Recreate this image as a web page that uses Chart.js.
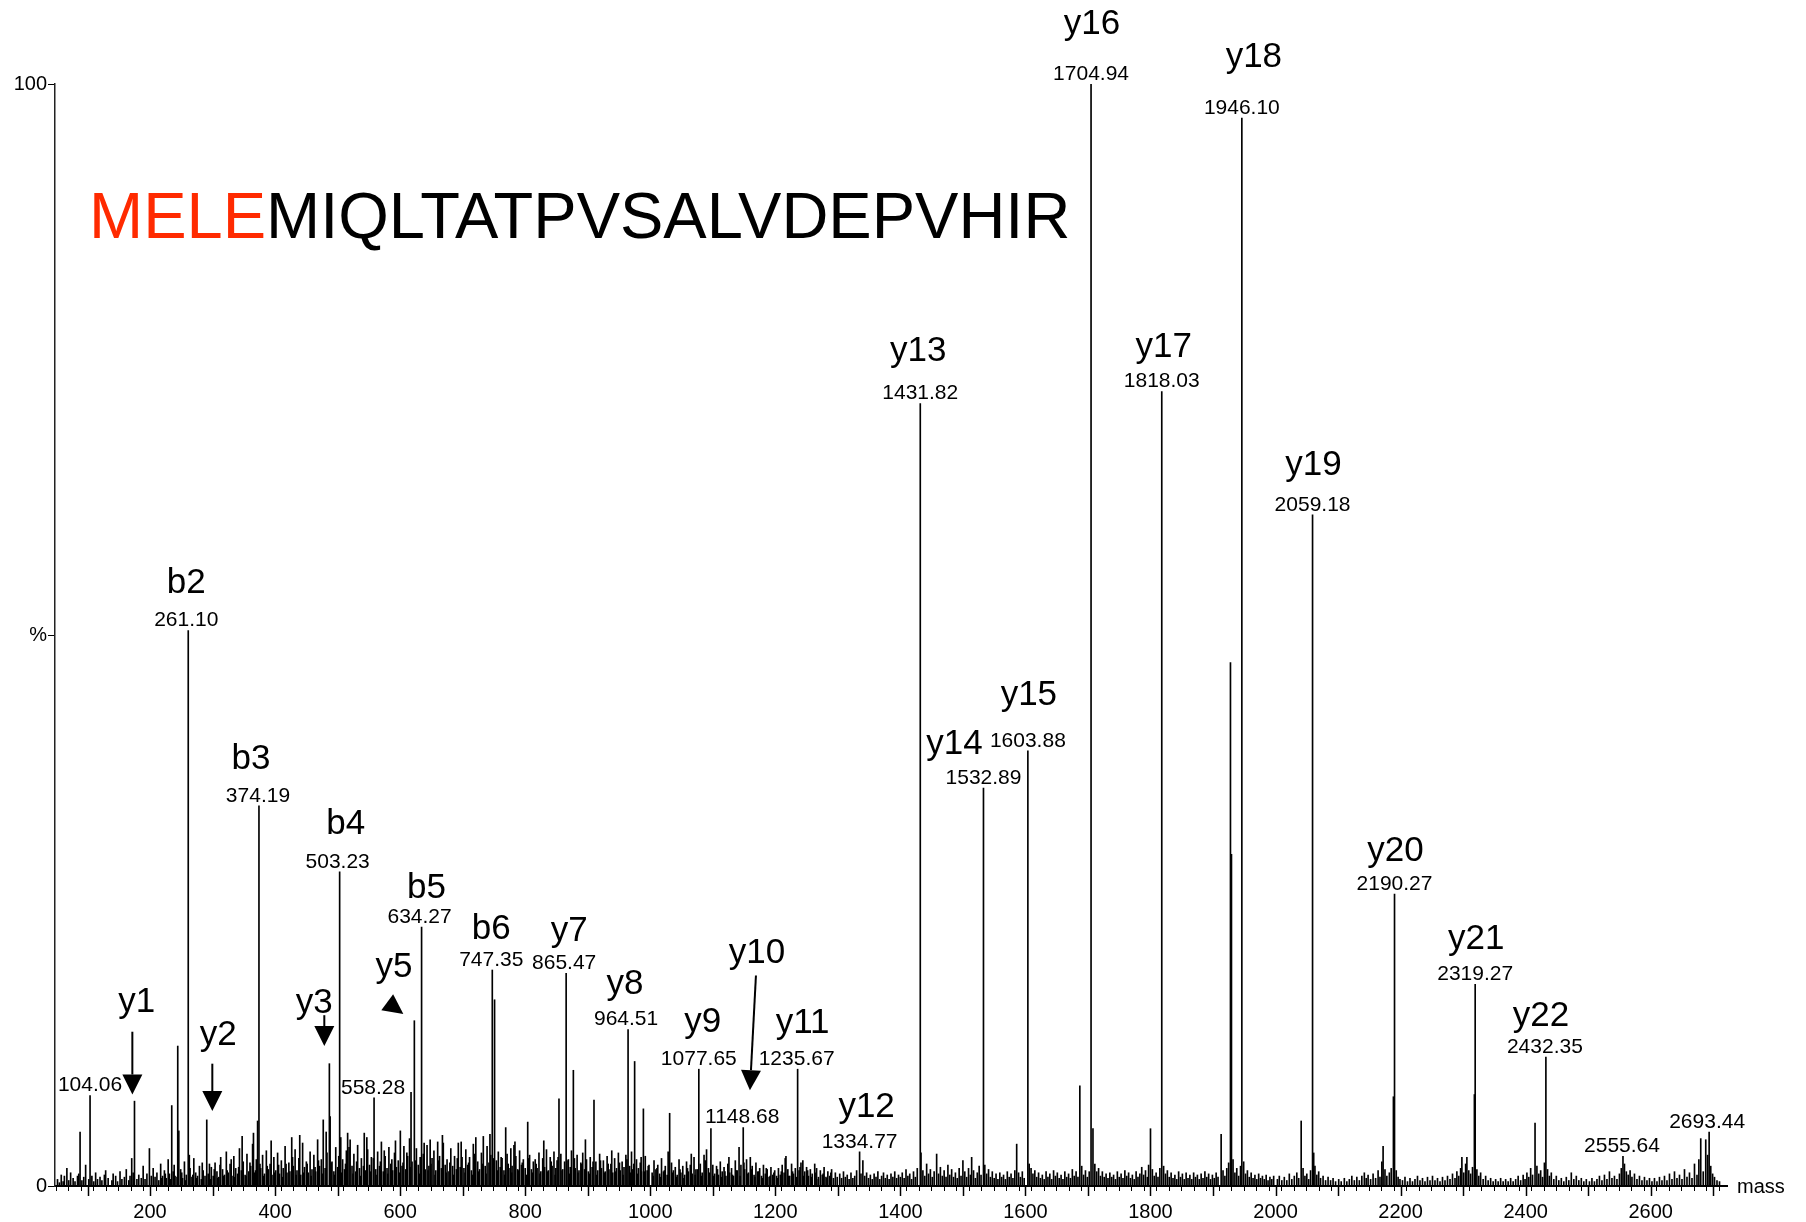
<!DOCTYPE html>
<html>
<head>
<meta charset="utf-8">
<script src="https://cdn.jsdelivr.net/npm/chart.js@4.4.1/dist/chart.umd.min.js"></script>
<style>
  html, body { margin: 0; padding: 0; background: #fff; }
  #wrap { width: 1806px; height: 1222px; }
</style>
</head>
<body>
<div id="wrap"><canvas id="espectro" width="1806" height="1222"></canvas></div>
<script>
// picos principais (massa, intensidade em %)
const peakMass = [88.1, 104.06, 170.7, 175.12, 199.0, 234.7, 244.3, 246.0, 261.10, 290.7, 295.0, 372.0, 374.19,
  426.6, 477.0, 486.8, 488.0, 503.23, 505.0, 516.0, 520.0, 542.6, 558.28, 600.3, 617.4, 622.7, 634.27, 648.0, 660.0,
  721.0, 733.0, 747.35, 751.0, 768.8, 782.0, 804.0, 813.0, 854.0, 865.47, 877.0, 910.0, 964.51, 975.0, 989.0, 1031.0,
  1077.65, 1090.0, 1097.0, 1142.0, 1148.68, 1160.0, 1217.0, 1235.67, 1244.0, 1263.0, 1334.77, 1340.0, 1431.82, 1433.0,
  1458.0, 1500.0, 1514.0, 1532.89, 1586.0, 1603.88, 1606.0, 1687.0, 1704.94, 1708.0, 1800.0, 1818.03, 1913.0, 1927.9,
  1929.5, 1946.10, 2041.0, 2059.18, 2061.0, 2172.0, 2188.5, 2190.27, 2298.0, 2306.0, 2318.0, 2319.27, 2415.0, 2432.35,
  2555.64, 2680.0, 2688.0, 2693.44, 2696.0];
const peakInt = [4.9, 8.2, 2.5, 7.7, 3.4, 7.3, 12.7, 5.0, 50.4, 6.0, 2.0, 5.9, 34.5,
  4.4, 6.0, 11.1, 6.3, 28.5, 4.4, 4.8, 4.2, 4.8, 8.0, 5.0, 8.5, 15.0, 23.5, 4.2, 4.0,
  4.4, 4.5, 19.6, 16.9, 5.3, 3.7, 5.8, 2.2, 7.9, 19.3, 10.5, 7.8, 14.2, 11.3, 7.0, 6.6,
  10.6, 3.3, 5.2, 3.5, 5.3, 2.6, 2.7, 10.6, 2.3, 2.0, 3.1, 2.3, 71.0, 3.0,
  2.9, 2.3, 2.6, 36.1, 3.8, 39.5, 2.0, 9.1, 100, 5.2, 5.2, 72.1, 4.7, 47.5,
  30.1, 96.9, 5.9, 60.9, 3.0, 3.6, 8.1, 26.5, 2.6, 2.6, 8.3, 18.3, 5.7, 11.7,
  2.7, 4.3, 4.2, 4.9, 1.8];

// ruído de fundo (massa, %)
const noisePeaks = [
  [52,0.6],[55,0.3],[58,1.0],[61,0.4],[63,0.9],[67,1.6],[70,0.5],[73,1.2],[77,0.7],[80,0.4],[84,0.9],[86,1.1],[91,0.5],[94,0.8],[97,1.9],[102,0.6],
  [107,0.9],[110,0.4],[113,1.2],[116,0.6],[120,0.8],[123,0.5],[127,1.0],[129,1.4],[133,0.7],[139,0.5],[141,1.1],[145,0.9],[148,0.4],[152,1.3],[155,0.6],[159,0.8],[162,1.5],[166,0.5],[168,0.9],[173,1.2],[179,0.6],[182,1.0],[186,0.7],[189,1.8],[192,0.6],[195,1.1],[202,0.9],
  [205,1.6],[208,0.8],[211,1.2],[214,0.5],[217,2.0],[220,0.9],[223,1.4],[226,0.7],[229,2.4],[231,1.1],[237,1.3],[240,0.9],[249,1.5],[252,0.7],[255,2.2],[258,1.0],[264,1.6],[267,0.8],[270,2.5],[273,1.2],[276,0.9],[279,1.8],[282,0.6],[285,1.4],[293,1.1],[298,1.7],
  [301,0.9],[304,2.1],[307,1.3],[310,0.8],[313,2.6],[316,1.5],[319,1.0],[322,3.1],[325,1.2],[328,2.0],[331,0.9],[334,2.7],[337,1.6],[340,1.1],[343,3.4],[346,1.4],[349,2.2],[352,1.0],[355,2.9],[358,1.3],[361,1.8],[364,3.8],[367,1.2],[370,2.4],[377,1.6],[380,2.8],[383,1.1],[386,3.2],[389,1.5],[392,2.0],[395,1.0],[398,2.6],
  [401,1.4],[404,3.0],[407,1.1],[410,2.3],[413,1.6],[416,3.6],[419,1.2],[422,2.1],[429,1.8],[432,3.3],[435,1.4],[438,2.5],[441,1.0],[444,3.9],[447,1.7],[450,2.2],[453,1.2],[456,3.1],[459,1.5],[462,2.8],[465,1.3],[468,4.2],[471,1.8],[474,2.4],[480,1.6],[483,3.0],[491,2.2],[494,1.3],[497,3.5],[500,1.7],
  [508,2.4],[511,1.5],[514,3.2],[523,1.8],[526,2.9],[529,1.3],[532,3.7],[535,1.6],[538,2.5],[545,1.4],[548,3.3],[551,1.9],[554,2.6],[561,1.5],[564,3.1],[567,1.8],[570,4.0],[573,1.3],[576,2.7],[579,1.6],[582,3.5],[585,2.0],[588,1.4],[591,3.0],[594,1.7],[597,2.3],[603,1.8],[606,3.6],[609,1.5],[612,2.7],[615,4.3],[619,2.2],
  [626,3.4],[629,1.9],[632,2.6],[637,2.9],[640,1.5],[643,3.7],[646,1.8],[651,2.5],[654,3.2],[657,1.4],[663,2.7],[666,1.6],[669,3.9],[672,1.9],[675,2.4],[678,1.3],[681,3.4],[684,1.8],[687,2.7],[690,1.5],[693,3.9],[696,1.7],[699,2.6],
  [702,1.6],[705,3.3],[708,1.9],[711,2.6],[714,1.4],[717,3.8],[724,2.2],[727,1.5],[730,3.0],[736,1.8],[739,3.6],[742,2.1],[745,2.8],[754,2.3],[757,3.1],[760,1.7],[763,2.5],[766,1.4],[771,2.9],[774,1.6],[777,3.4],[779,1.8],[785,2.7],[788,1.5],[791,3.2],[794,1.9],[797,2.4],[800,1.6],
  [807,2.8],[810,1.5],[816,2.4],[819,1.6],[822,3.0],[825,1.3],[828,2.5],[831,1.7],[834,3.3],[837,1.4],[840,2.6],[843,1.8],[846,3.1],[849,1.6],[851,2.3],[857,2.9],[860,1.5],[863,2.2],[869,2.4],[872,1.7],[874,3.2],[880,1.6],[883,2.8],[886,1.4],[889,2.1],[892,3.0],[895,1.5],[898,2.4],
  [901,1.3],[904,2.6],[907,1.7],[913,2.2],[916,1.4],[919,2.9],[922,1.6],[925,2.3],[928,1.3],[931,2.7],[934,1.5],[937,2.0],[940,1.2],[943,2.5],[946,1.6],[949,3.0],[952,1.4],[955,2.2],[958,1.7],[961,2.8],[967,1.8],[970,3.1],[972,1.5],[978,2.4],[981,1.6],[984,2.1],[986,1.3],[992,2.7],[995,1.4],[998,1.9],
  [1003,1.2],[1006,2.3],[1009,1.5],[1012,1.9],[1015,1.1],[1018,2.5],[1021,1.3],[1024,1.8],[1027,1.0],[1034,2.1],[1037,1.4],[1040,1.7],[1043,1.0],[1046,2.4],[1049,1.2],[1052,1.8],[1055,1.0],[1058,2.2],[1061,1.3],[1064,1.9],[1067,1.1],[1070,2.6],[1073,1.5],[1080,2.0],[1083,1.2],[1086,2.8],[1093,1.6],[1100,1.9],
  [1103,1.1],[1106,1.8],[1109,1.0],[1112,2.2],[1115,1.3],[1118,1.7],[1121,0.9],[1124,2.0],[1127,1.2],[1130,1.6],[1133,0.9],[1136,2.3],[1139,1.4],[1145,1.9],[1151,1.5],[1154,2.4],[1157,1.2],[1163,1.8],[1166,1.0],[1169,2.1],[1172,1.3],[1175,1.6],[1178,0.9],[1181,1.9],[1184,1.1],[1187,1.5],[1190,0.8],[1193,1.7],[1196,1.0],[1199,1.4],
  [1202,0.9],[1205,1.6],[1208,1.0],[1211,1.9],[1214,1.2],[1220,1.5],[1223,0.9],[1226,2.0],[1229,1.1],[1232,1.6],[1238,1.4],[1241,2.1],[1247,1.3],[1250,1.7],[1253,0.9],[1256,1.5],[1259,1.1],[1266,1.6],[1269,0.8],[1272,1.4],[1275,1.0],[1278,1.7],[1281,0.8],[1284,1.3],[1287,0.9],[1290,1.5],[1293,0.7],[1296,1.2],[1299,0.8],
  [1303,1.1],[1306,0.7],[1309,1.3],[1312,0.8],[1315,1.0],[1318,0.6],[1321,1.2],[1324,0.7],[1327,0.9],[1330,1.4],[1337,1.1],[1343,0.9],[1346,1.2],[1349,0.7],[1352,1.0],[1355,0.6],[1358,1.1],[1361,0.8],[1364,1.3],[1367,0.6],[1370,0.9],[1373,1.2],[1376,0.7],[1379,1.0],[1382,0.6],[1385,1.1],[1388,0.8],[1391,1.3],[1394,0.7],[1397,1.0],[1400,0.8],
  [1403,1.2],[1406,0.7],[1409,1.5],[1412,0.9],[1415,1.1],[1418,0.6],[1421,1.3],[1424,0.8],[1427,1.6],[1436,1.4],[1439,0.9],[1442,2.0],[1445,1.1],[1448,1.5],[1451,0.8],[1454,1.3],[1461,1.1],[1464,1.7],[1467,0.9],[1470,1.4],[1473,0.8],[1476,1.9],[1479,1.0],[1482,1.5],[1485,0.8],[1488,1.2],[1491,0.7],[1494,1.6],[1497,0.9],
  [1503,1.3],[1506,0.8],[1509,1.6],[1512,1.0],[1517,1.4],[1520,0.7],[1523,1.2],[1526,1.8],[1529,1.0],[1535,1.9],[1538,1.1],[1541,1.5],[1544,0.8],[1547,1.3],[1550,0.7],[1553,1.1],[1556,0.6],[1559,1.2],[1562,0.8],[1565,1.0],[1568,0.6],[1571,1.3],[1574,0.8],[1577,1.1],[1580,0.7],[1583,1.4],[1589,1.2],[1592,0.8],[1595,1.3],[1598,0.7],
  [1609,1.6],[1612,1.1],[1615,1.4],[1618,0.8],[1621,1.2],[1624,0.7],[1627,1.0],[1630,0.6],[1633,1.3],[1636,0.8],[1639,1.1],[1642,0.6],[1645,1.4],[1648,0.9],[1651,1.2],[1654,0.7],[1657,1.0],[1660,0.6],[1663,1.3],[1666,0.8],[1669,1.1],[1672,0.7],[1675,1.5],[1678,0.9],[1681,1.3],[1684,0.8],[1690,1.8],[1693,1.0],[1696,1.4],[1699,0.8],
  [1702,1.3],[1711,2.0],[1714,1.3],[1717,1.6],[1720,0.9],[1723,1.3],[1726,0.8],[1729,1.1],[1732,0.7],[1735,1.2],[1738,0.8],[1741,1.0],[1744,0.6],[1747,1.3],[1750,0.8],[1753,1.1],[1756,0.7],[1759,1.4],[1762,0.9],[1765,1.2],[1768,0.7],[1771,1.0],[1774,0.6],[1777,1.3],[1780,0.8],[1783,1.1],[1786,1.7],[1789,1.0],[1792,1.4],[1795,0.8],[1797,1.9],
  [1803,1.5],[1806,0.9],[1809,1.2],[1812,0.8],[1815,1.6],[1821,1.8],[1824,1.1],[1827,1.4],[1830,0.8],[1833,1.2],[1836,0.7],[1839,1.0],[1842,0.6],[1845,1.3],[1848,0.8],[1851,1.1],[1854,0.6],[1857,1.2],[1860,0.7],[1863,1.0],[1866,0.6],[1869,1.2],[1872,0.8],[1875,1.0],[1878,0.6],[1881,1.1],[1884,0.7],[1887,1.3],[1890,0.8],[1893,1.1],[1896,0.6],[1899,1.0],
  [1902,0.7],[1905,1.2],[1908,0.8],[1916,1.4],[1919,0.9],[1922,1.6],[1925,2.1],[1932,2.4],[1935,1.2],[1938,1.6],[1941,0.9],[1944,1.8],[1949,2.2],[1952,1.1],[1955,1.4],[1958,0.8],[1961,1.2],[1964,0.7],[1967,1.0],[1970,0.6],[1973,1.1],[1976,0.7],[1979,0.9],[1982,0.6],[1985,1.0],[1988,0.5],[1991,0.8],[1994,0.6],[1997,0.9],
  [2003,0.6],[2006,0.9],[2010,0.5],[2014,0.8],[2018,0.5],[2022,1.1],[2026,0.6],[2030,0.9],[2034,1.2],[2037,0.7],[2044,1.6],[2047,0.9],[2050,1.1],[2053,0.6],[2056,1.4],[2063,1.8],[2066,1.0],[2069,1.3],[2072,0.7],[2076,0.9],[2080,0.5],[2084,0.8],[2088,0.5],[2092,0.7],[2096,0.4],
  [2101,0.6],[2105,0.4],[2110,0.7],[2114,0.4],[2118,0.6],[2122,0.9],[2126,0.5],[2130,0.8],[2134,0.5],[2138,0.9],[2142,1.2],[2145,0.7],[2148,1.0],[2152,0.6],[2156,1.1],[2160,0.7],[2164,1.4],[2167,0.8],[2170,2.2],[2175,1.5],[2178,0.9],[2182,1.2],[2185,1.6],[2193,1.4],[2196,0.8],[2199,0.6],
  [2203,0.5],[2207,0.8],[2211,0.4],[2215,0.7],[2219,0.4],[2223,0.6],[2227,0.9],[2231,0.5],[2235,0.7],[2239,0.4],[2243,0.8],[2247,0.5],[2251,0.9],[2255,0.5],[2259,0.7],[2263,0.4],[2267,0.8],[2271,0.5],[2275,0.9],[2279,0.6],[2283,1.1],[2287,0.7],[2290,1.3],[2293,0.9],[2296,1.6],
  [2301,1.2],[2304,2.0],[2309,1.4],[2312,1.1],[2315,1.7],[2322,1.5],[2325,0.9],[2328,1.2],[2332,0.6],[2336,0.9],[2340,0.5],[2344,0.7],[2348,0.4],[2352,0.6],[2356,0.4],[2360,0.7],[2364,0.4],[2368,0.6],[2372,0.4],[2376,0.7],[2380,0.4],[2384,0.6],[2388,0.9],[2392,0.5],[2396,1.0],[2399,0.6],
  [2402,1.2],[2405,0.8],[2408,1.6],[2411,1.0],[2418,1.8],[2421,1.1],[2424,1.4],[2427,0.8],[2430,2.1],[2435,1.5],[2438,0.9],[2441,1.2],[2445,0.6],[2449,0.9],[2453,0.5],[2457,0.7],[2461,0.4],[2465,0.8],[2469,0.5],[2473,1.2],[2477,0.6],[2481,0.9],[2485,0.5],[2489,0.7],[2493,0.4],[2497,0.6],
  [2502,0.4],[2506,0.7],[2510,0.4],[2514,0.6],[2518,0.9],[2522,0.5],[2526,1.0],[2530,0.6],[2534,1.3],[2538,0.7],[2542,0.9],[2546,0.6],[2550,1.1],[2553,1.6],[2558,2.0],[2561,1.3],[2564,1.0],[2567,1.4],[2570,0.8],[2574,1.1],[2578,0.6],[2582,0.9],[2586,0.5],[2590,0.8],[2594,0.5],[2598,0.7],
  [2602,0.4],[2606,0.7],[2610,0.4],[2614,0.8],[2618,0.5],[2622,0.9],[2626,0.5],[2630,1.1],[2634,0.6],[2638,1.3],[2642,0.7],[2646,1.0],[2650,0.6],[2654,1.5],[2658,0.8],[2662,1.2],[2666,0.7],[2670,2.0],[2674,1.0],[2677,2.4],[2684,1.3],[2691,2.8],[2699,1.1],[2702,0.8],[2706,0.5],[2710,0.4]
];

// ruído irregular extra na região densa (massa, %)
const noiseExtra = [
  [218.5,0.7],[224.4,1.1],[233.2,0.6],[238.6,1.9],[243.1,0.8],[250.7,1.2],[256.3,0.5],[262.8,2.8],[268.4,1.0],[274.6,0.7],[283.5,2.1],[287.9,0.9],[296.4,0.6],
  [302.7,1.5],[308.3,0.7],[311.9,1.9],[317.6,0.9],[323.4,1.4],[329.8,2.4],[335.2,0.8],[341.7,1.7],[347.3,4.5],[353.6,0.9],[359.8,2.1],[365.4,4.8],[368.7,1.4],[375.8,2.0],[381.6,0.9],[387.4,1.8],[393.7,4.1],[399.3,1.2],
  [405.6,1.9],[411.8,0.8],[417.5,2.0],[423.7,1.3],[427.9,2.6],[433.6,1.0],[439.4,4.6],[445.8,1.2],[451.3,2.0],[457.6,0.9],[463.9,1.7],[469.4,2.3],[475.2,1.1],[481.7,4.9],[489.6,2.1],[495.4,1.0],
  [501.8,2.7],[506.5,1.2],[512.6,2.0],[518.3,3.5],[524.6,1.1],[530.4,2.2],[536.8,0.9],[541.3,1.8],[546.7,4.4],[552.4,1.3],[557.1,2.5],[562.9,1.0],[568.4,2.2],[574.6,3.2],[580.2,1.1],[586.7,2.4],[592.5,4.1],[598.8,1.2],
  [604.6,2.1],[610.7,3.0],[616.1,1.7],[624.5,2.3],[630.8,1.1],[638.4,3.9],[644.6,1.4],[649.3,2.0],[655.8,1.0],[661.4,2.3],[667.6,4.6],[673.8,1.2],[679.5,2.1],[685.7,1.0],[691.4,2.5],[697.6,4.0],
  [703.8,1.2],[709.5,2.1],[715.7,1.0],[719.4,2.9],[725.6,1.3],[731.8,2.0],[737.4,1.1],[743.6,4.7],[749.2,2.5],[755.8,1.4],[761.5,2.6],[767.3,1.0],[772.8,2.0],[778.4,1.2],[783.6,4.0],[789.7,1.4],[795.3,2.1],
  [801.6,1.0],[805.4,2.5],[811.7,1.2],[817.5,2.0],[823.6,1.1],[829.7,4.1],[835.4,1.3],[841.6,2.2],[847.8,1.0],[852.6,2.6],[858.9,1.4],[866.8,2.3],[870.6,1.1],[878.7,2.5],[884.4,1.2],[890.6,2.0],[896.3,4.2],
  [902.8,1.1],[908.5,2.2],[914.6,1.0],[920.4,2.3],[926.6,1.2],[932.7,2.0],[938.4,3.2],[944.6,1.3],[950.8,2.1],[956.5,1.0],[962.7,2.4],[968.4,1.2],[973.6,2.0],[979.8,1.1],[985.4,2.6],[990.6,1.3],[996.7,1.8],
  [1004.6,0.9],[1010.7,1.6],[1016.4,0.8],[1022.5,1.4],[1028.6,3.1],[1035.7,1.2],[1041.4,0.8],[1047.6,1.5],[1053.8,0.7],[1059.5,1.6],[1065.6,2.9],[1071.7,1.0],[1075.4,1.5],[1081.6,0.9],[1087.8,2.3],[1094.4,1.2],
  [1101.6,0.9],[1107.5,1.5],[1113.7,0.8],[1119.4,1.3],[1125.8,2.6],[1131.5,1.0],[1137.6,1.4],[1143.7,0.9],[1149.8,2.1],[1155.5,1.1],[1161.7,1.5],[1167.4,0.8],[1173.6,1.3],[1179.8,0.7],[1185.5,1.6],[1191.6,0.9],[1197.7,1.2],
  [1203.5,0.7],[1209.6,1.3],[1215.8,2.5],[1221.4,0.9],[1227.6,1.3],[1233.7,0.8],[1239.5,1.7],[1245.6,0.9],[1251.7,1.4],[1257.5,0.8],[1263.6,1.2],[1268.7,0.6],[1276.5,1.1],[1282.6,0.7],[1288.8,1.2]
];

// eixos
const massMin = 48;
const massMax = 2722;
const yTickLabels = { 0: '0', 50: '%', 100: '100' };

// sequência do peptídeo
const seqRed = 'MELE';
const seqBlack = 'MIQLTATPVSALVDEPVHIR';

// rótulos dos íons (deslocamentos em px a partir do topo do pico)
const ionLabels = [
  { ion: 'y16', mass: 1704.94, dx: 1, dy: -60, vdx: 0 },
  { ion: 'y18', mass: 1946.10, dx: 12, dy: -61, vdx: 0 },
  { ion: 'y13', mass: 1431.82, dx: -2, dy: -52, vdx: 0 },
  { ion: 'y17', mass: 1818.03, dx: 2, dy: -44, vdx: 0 },
  { ion: 'y19', mass: 2059.18, dx: 1, dy: -50, vdx: 0 },
  { ion: 'b2', mass: 261.10, dx: -2, dy: -47, vdx: -2 },
  { ion: 'y15', mass: 1603.88, dx: 1, dy: -55, vdx: 0 },
  { ion: 'y14', mass: 1532.89, dx: -29, dy: -44, vdx: 0 },
  { ion: 'b3', mass: 374.19, dx: -8, dy: -46, vdx: -1 },
  { ion: 'b4', mass: 503.23, dx: 6, dy: -48, vdx: -2 },
  { ion: 'b5', mass: 634.27, dx: 5, dy: -39, vdx: -2 },
  { ion: 'y20', mass: 2190.27, dx: 1, dy: -43, vdx: 0 },
  { ion: 'b6', mass: 747.35, dx: -1, dy: -41, vdx: -1 },
  { ion: 'y7', mass: 865.47, dx: 3, dy: -42, vdx: -2 },
  { ion: 'y21', mass: 2319.27, dx: 1, dy: -45, vdx: 0 },
  { ion: 'y8', mass: 964.51, dx: -3, dy: -45, vdx: -2 },
  { ion: 'y22', mass: 2432.35, dx: -5, dy: -41, vdx: -1 },
  { ion: 'y9', mass: 1077.65, dx: 4, dy: -47, vdx: 0 },
  { ion: 'y11', mass: 1235.67, dx: 5, dy: -46, vdx: -1 },
  { ion: 'y12', mass: 1334.77, dx: 7, dy: -44, vdx: 0 },
  { ion: '', mass: 104.06, vdx: 0 },
  { ion: '', mass: 558.28, vdx: -1 },
  { ion: '', mass: 1148.68, vdx: -1 },
  { ion: '', mass: 2555.64, vdx: -1 },
  { ion: '', mass: 2693.44, vdx: -2 }
];

// íons marcados com seta (coordenadas em massa / %)
const arrowLabels = [
  { ion: 'y1', text: [178.8, 16.7], from: [171.7, 14.0], to: [171.7, 8.3] },
  { ion: 'y2', text: [309.2, 13.7], from: [299.6, 11.1], to: [299.6, 6.8] },
  { ion: 'y3', text: [462.7, 16.6], from: [478.7, 15.5], to: [478.7, 12.7] },
  { ion: 'y5', text: [590.2, 19.8], from: [581.1, 16.6], to: [605.1, 15.6] },
  { ion: 'y10', text: [1170.6, 21.1], from: [1169.0, 19.1], to: [1159.4, 8.7] }
];

const FONTE = '"Liberation Sans", Arial, sans-serif';
Chart.defaults.font.family = FONTE;

const alturaDe = m => peakInt[peakMass.indexOf(m)];

function desenharSeta(ctx, x1, y1, x2, y2) {
    const ang = Math.atan2(y2 - y1, x2 - x1);
    const len = Math.hypot(x2 - x1, y2 - y1);
    const cab = 20;
    ctx.lineWidth = 2;
    if (len > cab) {
        ctx.beginPath();
        ctx.moveTo(x1, y1);
        ctx.lineTo(x2 - Math.cos(ang) * cab, y2 - Math.sin(ang) * cab);
        ctx.stroke();
    }
    ctx.save();
    ctx.translate(x2, y2);
    ctx.rotate(ang);
    ctx.beginPath();
    ctx.moveTo(0, 0);
    ctx.lineTo(-cab, -10);
    ctx.lineTo(-cab, 10);
    ctx.closePath();
    ctx.fill();
    ctx.restore();
}

const anotacoes = {
    id: 'anotacoes',
    afterDatasetsDraw(chart) {
        const { ctx, scales: { x, y } } = chart;
        const base = y.getPixelForValue(0);
        ctx.save();
        ctx.fillStyle = '#000';
        ctx.strokeStyle = '#000';

        // ticks maiores a cada 100
        ctx.lineWidth = 1.5;
        for (let m = 100; m <= massMax; m += 100) {
            const px = Math.round(x.getPixelForValue(m)) + 0.5;
            ctx.beginPath();
            ctx.moveTo(px, base);
            ctx.lineTo(px, base + 10);
            ctx.stroke();
        }

        // rótulo do eixo x
        ctx.font = '20px ' + FONTE;
        ctx.textAlign = 'left';
        ctx.textBaseline = 'middle';
        ctx.fillText('mass', x.right + 10, base + 1);

        // sequência
        ctx.font = '65px ' + FONTE;
        ctx.textBaseline = 'alphabetic';
        const sx = x.getPixelForValue(102.5);
        const sy = y.getPixelForValue(86.0);
        ctx.fillStyle = '#ff2a00';
        ctx.fillText(seqRed, sx, sy);
        const w = ctx.measureText(seqRed).width;
        ctx.fillStyle = '#000';
        ctx.fillText(seqBlack, sx + w, sy);

        // rótulos dos picos
        ctx.textAlign = 'center';
        ctx.textBaseline = 'middle';
        ionLabels.forEach(l => {
            const px = x.getPixelForValue(l.mass);
            const top = y.getPixelForValue(alturaDe(l.mass));
            ctx.font = '21px ' + FONTE;
            ctx.fillText(l.mass.toFixed(2), px + l.vdx, top - 10);
            if (l.ion) {
                ctx.font = '35px ' + FONTE;
                ctx.fillText(l.ion, px + l.dx, top + l.dy);
            }
        });

        // íons com seta
        arrowLabels.forEach(a => {
            ctx.font = '35px ' + FONTE;
            ctx.fillText(a.ion, x.getPixelForValue(a.text[0]), y.getPixelForValue(a.text[1]));
            desenharSeta(ctx,
                x.getPixelForValue(a.from[0]), y.getPixelForValue(a.from[1]),
                x.getPixelForValue(a.to[0]), y.getPixelForValue(a.to[1]));
        });
        ctx.restore();
    }
};

const ctx = document.getElementById('espectro').getContext('2d');
new Chart(ctx, {
    type: 'bar',
    data: {
        datasets: [
            { label: 'ruido', data: noisePeaks.concat(noiseExtra).map(p => ({ x: p[0], y: p[1] })), backgroundColor: '#000', barThickness: 1, grouped: false },
            { label: 'picos', data: peakMass.map((m, i) => ({ x: m, y: peakInt[i] })), backgroundColor: '#000', barThickness: 1, grouped: false }
        ]
    },
    options: {
        responsive: false,
        animation: false,
        devicePixelRatio: 1,
        layout: { padding: { top: 84, right: 79, left: 0, bottom: 0 } },
        plugins: { legend: { display: false }, tooltip: { enabled: false } },
        scales: {
            x: {
                type: 'linear',
                min: massMin,
                max: massMax,
                offset: false,
                grid: { drawOnChartArea: false, tickLength: 5, tickColor: '#000', tickWidth: 1 },
                border: { display: true, color: '#000', width: 2 },
                ticks: {
                    stepSize: 20,
                    autoSkip: false,
                    maxRotation: 0,
                    minRotation: 0,
                    includeBounds: false,
                    padding: 9,
                    color: '#000',
                    font: { size: 20 },
                    callback: v => (v % 200 === 0 ? String(v) : '')
                },
                afterFit: s => { s.height = 36; }
            },
            y: {
                min: 0,
                max: 100,
                grid: { drawOnChartArea: false, tickLength: 7, tickColor: '#000' },
                border: { display: true, color: '#222', width: 1.5 },
                ticks: {
                    stepSize: 50,
                    padding: 1,
                    color: '#000',
                    font: { size: 20 },
                    callback: v => yTickLabels[v] ?? ''
                },
                afterFit: s => { s.width = 55; }
            }
        }
    },
    plugins: [anotacoes]
});
</script>
</body>
</html>
